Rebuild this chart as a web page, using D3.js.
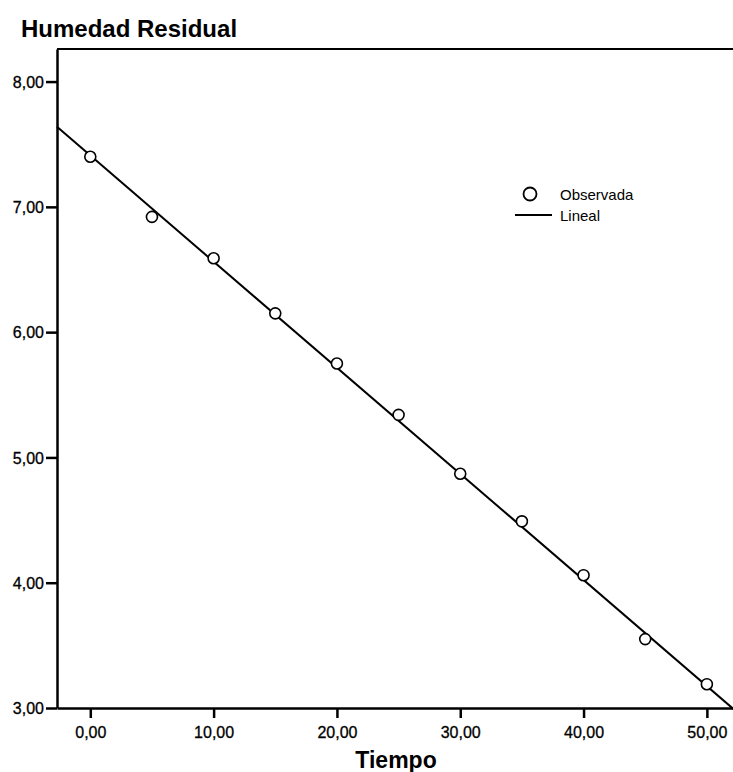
<!DOCTYPE html>
<html>
<head>
<meta charset="utf-8">
<script src="https://cdnjs.cloudflare.com/ajax/libs/d3/7.8.5/d3.min.js"></script>
<style>
  body { margin: 0; background: #fff; }
  text { font-family: "Liberation Sans", Arial, sans-serif; }
</style>
</head>
<body>
<script>
const tiempo = [0, 5, 10, 15, 20, 25, 30, 35, 40, 45, 50];
const humedad = [7.40, 6.92, 6.59, 6.15, 5.75, 5.34, 4.87, 4.49, 4.06, 3.55, 3.19];
const xTicks = [0, 10, 20, 30, 40, 50];
const yTicks = [3, 4, 5, 6, 7, 8];
const fitIntercept = 7.41;
const fitSlope = -0.0847;

const width = 733, height = 772;
const svg = d3.select("body").append("svg")
    .attr("width", width)
    .attr("height", height);

const x = d3.scaleLinear().domain([-2.7, 52.2]).range([57, 734]);
const y = d3.scaleLinear().domain([3, 8.26]).range([708, 49]);

const fmt = d => d.toFixed(2).replace(".", ",");

// top border of plot box
svg.append("line")
    .attr("x1", x(-2.7)).attr("x2", width)
    .attr("y1", y(8.26)).attr("y2", y(8.26))
    .attr("stroke", "#000").attr("stroke-width", 2);

const yAxis = svg.append("g")
    .attr("transform", `translate(${x(-2.7)},0)`)
    .call(d3.axisLeft(y).tickValues(yTicks).tickFormat(fmt).tickSize(11).tickPadding(2).tickSizeOuter(0));

const xAxis = svg.append("g")
    .attr("transform", `translate(0,${y(3)})`)
    .call(d3.axisBottom(x).tickValues(xTicks).tickFormat(fmt).tickSize(10).tickSizeOuter(0));

[xAxis, yAxis].forEach(g => {
    g.select(".domain").attr("stroke", "#000").attr("stroke-width", 2.5);
    g.selectAll(".tick line").attr("stroke", "#000").attr("stroke-width", 2.5);
    g.selectAll(".tick text")
        .attr("fill", "#000")
        .attr("stroke", "#000").attr("stroke-width", 0.3)
        .style("font-size", "16px")
        .style("font-family", "Liberation Sans, Arial, sans-serif");
});
xAxis.selectAll(".tick text").attr("y", 8).attr("dy", "1.4em");
yAxis.selectAll(".tick text").attr("dy", "0.36em");

// fit line
const x0 = -2.7, x1 = 52.2;
svg.append("line")
    .attr("x1", x(x0)).attr("y1", y(fitIntercept + fitSlope * x0))
    .attr("x2", x(x1)).attr("y2", y(fitIntercept + fitSlope * x1))
    .attr("stroke", "#000").attr("stroke-width", 2);

// observed points
svg.selectAll("circle.obs")
    .data(tiempo.map((t, i) => ({ t, h: humedad[i] })))
    .enter().append("circle")
    .attr("class", "obs")
    .attr("cx", d => x(d.t))
    .attr("cy", d => y(d.h))
    .attr("r", 5.5)
    .attr("fill", "#fff")
    .attr("stroke", "#000")
    .attr("stroke-width", 1.6);

// legend
const lg = svg.append("g");
lg.append("circle").attr("cx", 530).attr("cy", 194).attr("r", 6.5)
    .attr("fill", "#fff").attr("stroke", "#000").attr("stroke-width", 1.8);
lg.append("text").attr("x", 560).attr("y", 200).text("Observada")
    .style("font-size", "15px");
lg.append("line").attr("x1", 515).attr("x2", 552).attr("y1", 215).attr("y2", 215)
    .attr("stroke", "#000").attr("stroke-width", 2);
lg.append("text").attr("x", 560).attr("y", 221).text("Lineal")
    .style("font-size", "15px");

// titles
svg.append("text").attr("x", 21).attr("y", 37)
    .text("Humedad Residual")
    .style("font-size", "24px").style("font-weight", "bold");
svg.append("text").attr("x", 396).attr("y", 768)
    .attr("text-anchor", "middle")
    .text("Tiempo")
    .style("font-size", "23px").style("font-weight", "bold");
</script>
</body>
</html>
